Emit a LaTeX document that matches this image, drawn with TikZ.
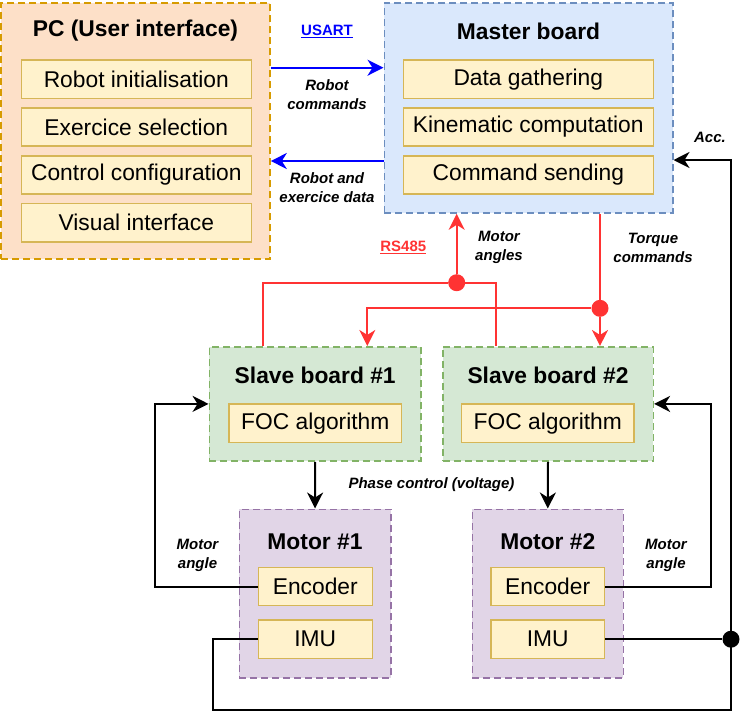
\documentclass[tikz,border=0pt]{standalone}
\usepackage{fontspec}
\setmainfont{Liberation Sans}
\usetikzlibrary{arrows.meta}
\definecolor{pcF}{HTML}{FDE0C8}
\definecolor{pcD}{HTML}{D79B00}
\definecolor{maF}{HTML}{DAE8FC}
\definecolor{maD}{HTML}{6C8EBF}
\definecolor{slF}{HTML}{D5E8D4}
\definecolor{slD}{HTML}{82B366}
\definecolor{moF}{HTML}{E1D5E7}
\definecolor{moD}{HTML}{9673A6}
\definecolor{inF}{HTML}{FFF2CC}
\definecolor{inD}{HTML}{D6B656}
\definecolor{rs}{HTML}{FF3333}
\definecolor{us}{HTML}{0000FF}
\begin{document}
\begin{tikzpicture}[x=1pt,y=-1pt,
  group/.style={draw, line width=1.6pt, dash pattern=on 7pt off 4pt, inner sep=0pt},
  inbox/.style={draw=inD, fill=inF, line width=1.6pt, inner sep=0pt, minimum height=38.3pt,
    font=\fontsize{22.8}{27}\selectfont},
  ttl/.style={font=\fontsize{22.8}{27}\selectfont\bfseries},
  lbl/.style={font=\fontsize{15}{19}\selectfont\bfseries\itshape, align=center},
  tip/.style={-{Stealth[length=16pt,width=16pt,inset=5pt]}},
  rline/.style={draw=rs, line width=2pt},
  bline/.style={draw=us, line width=2pt},
  kline/.style={draw=black, line width=2pt},
  dot/.style={circle, inner sep=0pt, minimum size=17pt}
]
\useasboundingbox (0,0) rectangle (742,713);

% PC
\node[group, draw=pcD, fill=pcF, minimum width=269pt, minimum height=256pt] (pc) at (135.5,131) {};
\node[ttl] (pct) at (135.5,31) {PC (User interface)};
\node[inbox, minimum width=230pt] (p1) at (136.3,79.2) {Robot initialisation};
\node[inbox, minimum width=230pt] (p2) at (136.3,127) {Exercice selection};
\node[inbox, minimum width=230pt] (p3) at (136.3,175) {Control configuration};
\node[inbox, minimum width=230pt] (p4) at (136.3,222.7) {Visual interface};

% Master
\node[group, draw=maD, fill=maF, minimum width=288.4pt, minimum height=210pt] (master) at (528.5,108) {};
\node[ttl] (mt) at (528.5,31) {Master board};
\node[inbox, minimum width=250pt] (m1) at (528.3,79.2) {Data gathering};
\node[inbox, minimum width=250pt] (m2) at (528.3,127) {Kinematic computation};
\node[inbox, minimum width=250pt] (m3) at (528.3,175) {Command sending};

% Slaves
\node[group, draw=slD, fill=slF, minimum width=211.7pt, minimum height=114.3pt] (slave1) at (315.2,403.9) {};
\node[ttl] (s1t) at (315.2,375.5) {Slave board \#1};
\node[inbox, minimum width=172.7pt] (f1) at (315.3,423.3) {FOC algorithm};
\node[group, draw=slD, fill=slF, minimum width=210.6pt, minimum height=114.3pt] (slave2) at (548,403.9) {};
\node[ttl] (s2t) at (548,375.5) {Slave board \#2};
\node[inbox, minimum width=172.3pt] (f2) at (547.8,423.3) {FOC algorithm};

% Motors
\node[group, draw=moD, fill=moF, minimum width=151.4pt, minimum height=168.4pt] (motor1) at (315,593.5) {};
\node[ttl] (mo1t) at (315,542) {Motor \#1};
\node[inbox, minimum width=114pt] (enc1) at (315.3,586.5) {Encoder};
\node[inbox, minimum width=114pt] (imu1) at (315.3,639.2) {IMU};
\node[group, draw=moD, fill=moF, minimum width=151pt, minimum height=168.4pt] (motor2) at (547.8,593.5) {};
\node[ttl] (mo2t) at (547.8,542) {Motor \#2};
\node[inbox, minimum width=113.3pt] (enc2) at (547.7,586.5) {Encoder};
\node[inbox, minimum width=113.3pt] (imu2) at (547.7,639.2) {IMU};

% helper coordinates
\coordinate (u1) at (0,67.7);
\coordinate (u2) at (0,161);
\coordinate (ra) at (262.7,282.7);
\coordinate (rb) at (495.7,282.7);
\coordinate (tc) at (367.3,308.3);
\coordinate (ll) at (155,0);
\coordinate (rl) at (711,0);
\coordinate (bl) at (212.7,710);
\coordinate (br) at (731,710);
\coordinate (acc) at (731,160);

\node[dot, fill=rs] (d1) at (456.7,282.7) {};
\node[dot, fill=rs] (d2) at (600,308.3) {};
\node[dot, fill=black] (d3) at (731,639.2) {};

% USART links
\draw[bline, tip] (pc.east |- u1) -- (master.west |- u1);
\draw[bline, tip] (master.west |- u2) -- (pc.east |- u2);

% RS485 links
\draw[rline] (slave1.north -| ra) -- (ra) -- (d1);
\draw[rline] (slave2.north -| rb) -- (rb) -- (d1);
\draw[rline, tip] (d1) -- (master.south -| d1);
\draw[rline] (master.south -| d2) -- (d2);
\draw[rline, tip] (d2) -- (slave2.north -| d2);
\draw[rline, tip] (d2) -- (tc) -- (slave1.north -| tc);

% phase control
\draw[kline, tip] (slave1.south) -- (motor1.north);
\draw[kline, tip] (slave2.south) -- (motor2.north);

% encoder feedback
\draw[kline, tip] (enc1.west) -- (enc1.west -| ll) -- (ll |- slave1.west) -- (slave1.west);
\draw[kline, tip] (enc2.east) -- (enc2.east -| rl) -- (rl |- slave2.east) -- (slave2.east);

% IMU to master
\draw[kline, tip] (imu1.west) -- (imu1.west -| bl) -- (bl) -- (br) -- (acc) -- (acc -| master.east);
\draw[kline] (imu2.east) -- (d3);

% labels
\node[lbl, text=us, font=\fontsize{15}{19}\selectfont\bfseries] (usart) at (327,31) {\underline{USART}};
\node[lbl] (lrc) at (327,94.5) {Robot\\commands};
\node[lbl] (lred) at (327,188) {Robot and\\exercice data};
\node[lbl, text=rs, font=\fontsize{15}{19}\selectfont\bfseries] (rs485) at (403.3,247.3) {\underline{RS485}};
\node[lbl] (lma) at (499,247.5) {Motor\\angles};
\node[lbl] (ltc) at (653,247.5) {Torque\\commands};
\node[lbl] (lacc) at (710,137) {Acc.};
\node[lbl] (lpc) at (431.5,484.3) {Phase control (voltage)};
\node[lbl] (lang1) at (197.5,555.5) {Motor\\angle};
\node[lbl] (lang2) at (666,555.5) {Motor\\angle};
\end{tikzpicture}
\end{document}
